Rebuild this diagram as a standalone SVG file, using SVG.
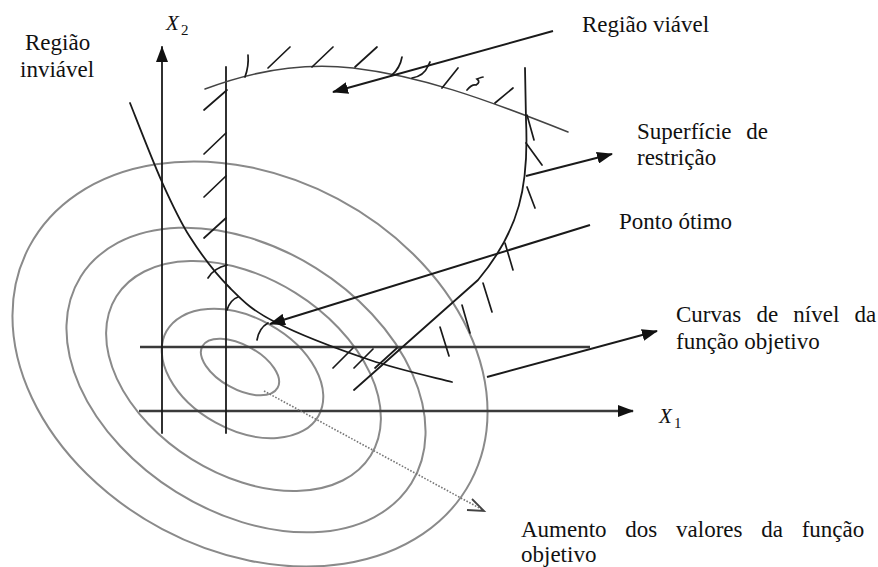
<svg xmlns="http://www.w3.org/2000/svg" width="878" height="567" viewBox="0 0 878 567">
<defs>
<style>
.lvl{fill:none;stroke:#8a8a8a;stroke-width:2}
.ln{fill:none;stroke:#1a1a1a;stroke-width:1.8;stroke-linecap:round}
.ax{fill:none;stroke:#3a3a3a;stroke-width:2.4}
.h{fill:none;stroke:#1a1a1a;stroke-width:1.7;stroke-linecap:round}
.arr{fill:none;stroke:#1a1a1a;stroke-width:2;marker-end:url(#ah)}
.t{font-family:"Liberation Serif","Times New Roman",serif;font-size:23px;fill:#111}
.m{font-family:"Liberation Serif","Times New Roman",serif;font-style:italic;font-size:21px;fill:#111}
.s{font-family:"Liberation Serif","Times New Roman",serif;font-size:15px;fill:#111}
</style>
<marker id="ah" markerUnits="userSpaceOnUse" markerWidth="16" markerHeight="12" refX="15" refY="6" orient="auto" viewBox="0 0 16 12">
<path d="M0,0 L16,6 L0,12 z" fill="#111"/>
</marker>
</defs>
<rect width="878" height="567" fill="#fff"/>

<g id="level-curves">
<ellipse class="lvl" cx="240" cy="367" rx="43" ry="22" transform="rotate(29 240 367)"/>
<ellipse class="lvl" cx="242.5" cy="373.5" rx="87" ry="56" transform="rotate(29 242.5 373.5)"/>
<ellipse class="lvl" cx="243.5" cy="376" rx="150" ry="98" transform="rotate(32 243.5 376)"/>
<ellipse class="lvl" cx="246" cy="380" rx="195" ry="132" transform="rotate(32 246 380)"/>
<ellipse class="lvl" cx="250" cy="364" rx="250" ry="187" transform="rotate(28 250 364)"/>
</g>

<g id="axes">
<line class="ax" x1="140" y1="347" x2="590" y2="347"/>
<line class="ax" x1="139" y1="411" x2="633" y2="411" style="marker-end:url(#ah)"/>
<line class="ln" x1="162" y1="433" x2="162" y2="47" style="marker-end:url(#ah)"/>
<line class="ln" x1="226" y1="67" x2="226" y2="433"/>
</g>

<g id="constraints">
<path class="ln" d="M130,103 C135.3,116.2 152,159.7 162,182 C172,204.3 178.7,219.3 190,237 C201.3,254.7 215.8,273.8 230,288 C244.2,302.2 251.7,310 275,322 C298.3,334 340.5,350 370,360 C399.5,370 438.3,378.3 452,382"/>
<path class="ln" style="stroke:#444;stroke-width:1.5" d="M205,89 C250,72 300,62 353,68 C420,76 480,97 568,132"/>
<path class="ln" d="M525,68 L526,120 C529,185 520,230 478,280 L354,390"/>
</g>

<g id="hatches">
<line class="h" x1="204" y1="110" x2="227" y2="90"/>
<line class="h" x1="204" y1="154" x2="226" y2="133"/>
<line class="h" x1="204" y1="197" x2="226" y2="176"/>
<line class="h" x1="204" y1="238" x2="226" y2="218"/>
<path class="h" d="M208,278 Q214,268 227,265"/>
<path class="h" d="M227,310 Q230,300 238,297"/>
<path class="h" d="M257,340 Q259,328 268,323"/>
<path class="h" d="M245,77 Q249,66 248,55"/>
<line class="h" x1="268" y1="68" x2="290" y2="47"/>
<line class="h" x1="312" y1="67" x2="333" y2="47"/>
<line class="h" x1="355" y1="67" x2="377" y2="47"/>
<path class="h" d="M392,75 Q400,68 402,57"/>
<path class="h" d="M412,78 Q424,76 428,66 L430,62"/>
<line class="h" x1="442" y1="88" x2="458" y2="68"/>
<path class="h" d="M467,90 Q472,84 476,85 Q481,82 477,79 Q482,77 483,77"/>
<line class="h" x1="495" y1="103" x2="513" y2="88"/>
<line class="h" x1="527" y1="115" x2="534" y2="140"/>
<line class="h" x1="526" y1="143" x2="542" y2="165"/>
<line class="h" x1="527" y1="187" x2="535" y2="208"/>
<line class="h" x1="505" y1="243" x2="513" y2="270"/>
<line class="h" x1="483" y1="283" x2="492" y2="312"/>
<line class="h" x1="462" y1="305" x2="470" y2="333"/>
<line class="h" x1="440" y1="327" x2="449" y2="356"/>
<line class="h" x1="333" y1="368" x2="353" y2="348"/>
<line class="h" x1="354" y1="368" x2="373" y2="349"/>
<line class="h" x1="375" y1="368" x2="397" y2="348"/>
</g>

<g id="connectors">
<line class="arr" x1="553" y1="31" x2="333" y2="92"/>
<line class="arr" x1="526" y1="176" x2="612" y2="154"/>
<line class="arr" x1="590" y1="225" x2="270" y2="324"/>
<line class="arr" x1="487" y1="377" x2="657" y2="331"/>
<line x1="264" y1="391" x2="483" y2="510" stroke="#777" stroke-width="1.6" stroke-dasharray="1.6 1.6"/>
<polyline points="472,499 484,511 467,510" fill="none" stroke="#444" stroke-width="1.8"/>
</g>

<g id="labels">
<g id="lbl-x2"><text class="m" x="166" y="30">X</text><text class="s" x="181" y="35">2</text></g>
<g id="lbl-x1"><text class="m" x="659" y="423">X</text><text class="s" x="674" y="428">1</text></g>
<g id="lbl-inviavel"><text class="t" x="25" y="50">Região</text><text class="t" x="20" y="77">inviável</text></g>
<g id="lbl-viavel"><text class="t" x="582" y="32">Região viável</text></g>
<g id="lbl-superficie"><text class="t" x="637" y="139" word-spacing="9">Superfície de</text><text class="t" x="637" y="165">restrição</text></g>
<g id="lbl-otimo"><text class="t" x="619" y="229">Ponto ótimo</text></g>
<g id="lbl-curvas"><text class="t" x="676" y="322" word-spacing="9.5">Curvas de nível da</text><text class="t" x="676" y="349">função objetivo</text></g>
<g id="lbl-aumento"><text class="t" x="521" y="537" word-spacing="13">Aumento dos valores da função</text><text class="t" x="521" y="562">objetivo</text></g>
</g>
</svg>
